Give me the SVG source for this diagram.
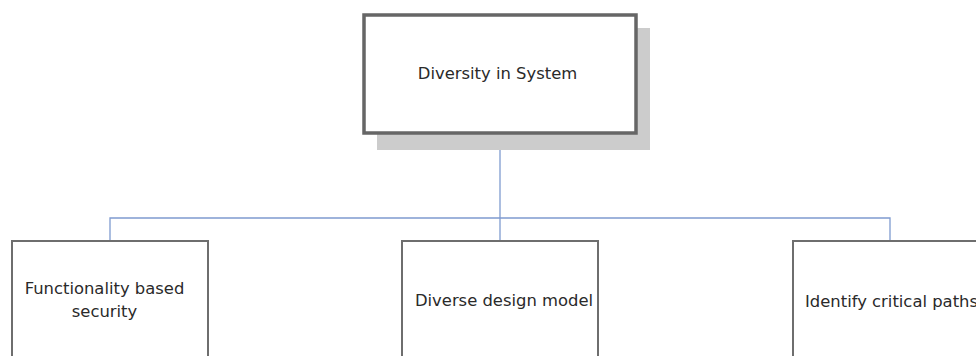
<svg xmlns="http://www.w3.org/2000/svg" width="976" height="356" viewBox="0 0 976 356">
  <style>
    .box { fill: #ffffff; stroke: #6e6e6e; stroke-width: 2; }
    .root { fill: #ffffff; stroke: #666666; stroke-width: 3.5; }
    .shadow { fill: #cccccc; }
    .label { font-family: "DejaVu Sans", "Liberation Sans", sans-serif; font-size: 16.4px; fill: #2a2a2a; text-anchor: middle; }
    .link { fill: none; stroke: #7f9bd0; stroke-width: 1.3; }
  </style>
  <rect width="976" height="356" fill="#ffffff"/>

  <g id="connectors">
    <path class="link" d="M500 133 V240"/>
    <path class="link" d="M110 240 V218 H890 V240"/>
  </g>

  <g id="node-root">
    <rect class="shadow" x="377" y="28" width="273" height="122"/>
    <rect class="root" x="364" y="15" width="272" height="118"/>
    <text class="label" x="497.5" y="79">Diversity in System</text>
  </g>

  <g id="node-functionality">
    <rect class="box" x="12" y="241" width="196" height="130"/>
    <text class="label" x="104.5" y="294">Functionality based</text>
    <text class="label" x="104.5" y="317">security</text>
  </g>

  <g id="node-design">
    <rect class="box" x="402" y="241" width="196" height="130"/>
    <text class="label" x="504" y="306">Diverse design model</text>
  </g>

  <g id="node-paths">
    <rect class="box" x="793" y="241" width="196" height="130"/>
    <text class="label" x="891.5" y="307">Identify critical paths</text>
  </g>
</svg>
